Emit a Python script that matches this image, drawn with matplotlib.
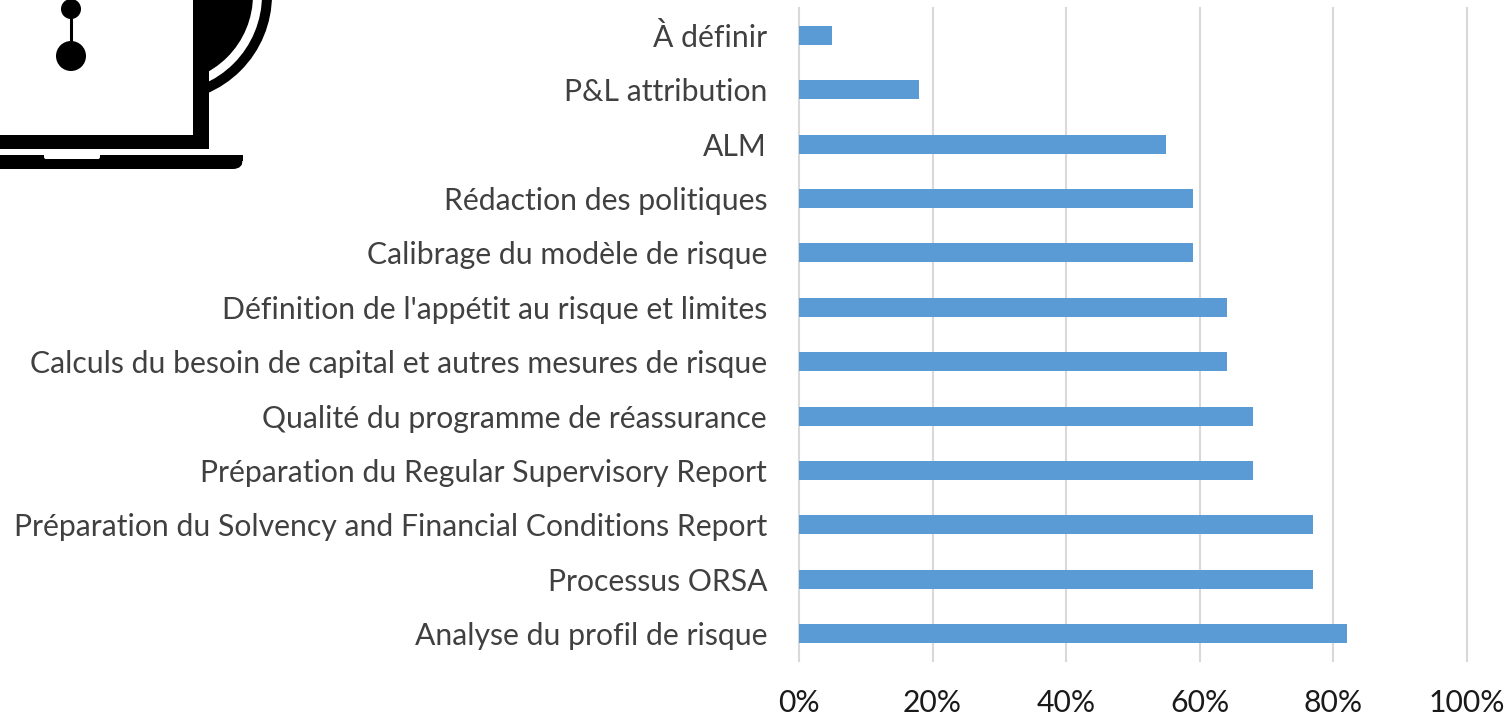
import matplotlib
matplotlib.use("Agg")
import matplotlib.pyplot as plt
from matplotlib.patches import Circle, Rectangle, FancyBboxPatch

categories = ["Analyse du profil de risque", "Processus ORSA",
              "Préparation du Solvency and Financial Conditions Report",
              "Préparation du Regular Supervisory Report",
              "Qualité du programme de réassurance",
              "Calculs du besoin de capital et autres mesures de risque",
              "Définition de l'appétit au risque et limites",
              "Calibrage du modèle de risque", "Rédaction des politiques",
              "ALM", "P&L attribution", "À définir"]
values = [82, 77, 77, 68, 68, 64, 64, 59, 59, 55, 18, 5]
xticks = [0, 20, 40, 60, 80, 100]
xticklabels = ["0%", "20%", "40%", "60%", "80%", "100%"]

W, H = 1511, 718
plt.rcParams['font.family'] = ['Lato', 'DejaVu Sans']
fig = plt.figure(figsize=(W / 100, H / 100), dpi=100, facecolor="white")

# decorative laptop-and-mug icon, in pixel coordinates
ic = fig.add_axes([0, 0, 1, 1], zorder=0)
ic.set_xlim(0, W)
ic.set_ylim(H, 0)
ic.axis("off")
for r, c in [(107, "black"), (97, "white"), (88, "black")]:
    ic.add_patch(Circle((165, -5), r, fc=c, ec="none"))
ic.add_patch(Rectangle((-5, -5), 198, 140, fc="white", ec="none"))
ic.add_patch(Rectangle((193, -5), 16, 154, fc="black", ec="none"))
ic.add_patch(Rectangle((-5, 135), 214, 14, fc="black", ec="none"))
ic.add_patch(FancyBboxPatch((-20, 155), 263, 14, boxstyle="round,pad=0,rounding_size=10",
                            fc="black", ec="none"))
ic.add_patch(Rectangle((210, 155), 33, 6, fc="black", ec="none"))
ic.add_patch(FancyBboxPatch((44, 153), 56, 6, boxstyle="round,pad=0,rounding_size=2",
                            fc="white", ec="none"))
ic.add_patch(Circle((71, 56), 15, fc="black", ec="none"))
ic.add_patch(Circle((71, 9), 10, fc="black", ec="none"))
ic.plot([71, 71], [9, 50], color="black", lw=2.2)

# chart
x0, x1, y0, y1 = 799, 1467, 8, 661
ax = fig.add_axes([x0 / W, 1 - y1 / H, (x1 - x0) / W, (y1 - y0) / H], zorder=1)
ax.patch.set_alpha(0)
ax.barh(range(len(values)), values, height=0.35, color="#5B9BD5", zorder=3)
ax.set_xlim(0, 100)
ax.set_ylim(-0.5, len(values) - 0.5)
ax.set_xticks(xticks)
ax.set_xticklabels(xticklabels, fontsize=21.7, color="#1a1a1a")
ax.set_yticks(range(len(categories)))
ax.set_yticklabels(categories, fontsize=21.7, color="#404040")
ax.tick_params(axis="both", length=0)
ax.tick_params(axis="x", pad=20)
ax.tick_params(axis="y", pad=23)
ax.xaxis.grid(True, color="#D9D9D9", lw=1.5, zorder=0)
ax.yaxis.grid(False)
for s in ax.spines.values():
    s.set_visible(False)
for g in ax.get_xgridlines():
    g.set_clip_on(False)

fig.savefig("out.png", dpi=100)
